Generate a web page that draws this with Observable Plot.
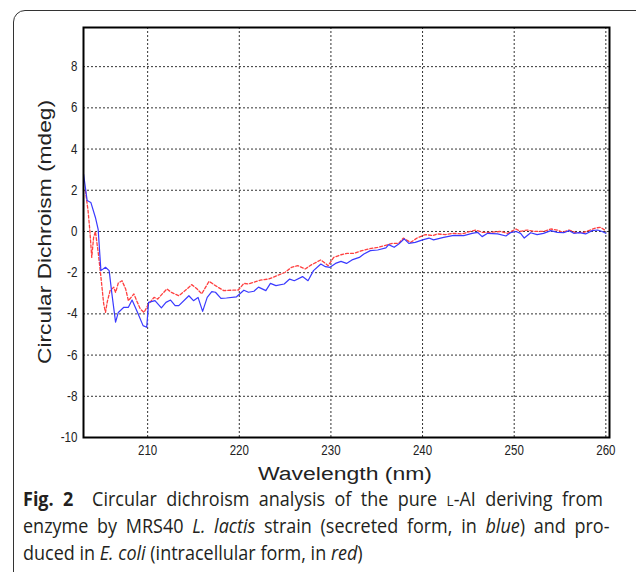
<!DOCTYPE html>
<html><head><meta charset="utf-8">
<script src="https://cdn.jsdelivr.net/npm/d3@7"></script>
<script src="https://cdn.jsdelivr.net/npm/@observablehq/plot@0.6"></script>
<style>
body{margin:0;background:#fff;}
#wrap{position:relative;width:636px;height:572px;overflow:hidden;background:#fff;}
#box{position:absolute;left:13px;top:10px;width:640px;height:620px;border:1.5px solid #333;border-radius:12px;box-sizing:border-box;}
#chart{position:absolute;left:0;top:0;}
#cap{position:absolute;left:0;top:485px;}
</style></head><body>
<div id="wrap"><div id="box"></div><div id="chart"></div><svg id="cap" width="636" height="87"></svg></div>
<script>
// Secreted form (blue)
const blueWavelength = [203.0,203.4,203.8,204.3,204.6,204.9,205.4,205.8,206.1,206.5,
  206.8,207.4,207.9,208.3,208.9,209.5,209.9,210.1,210.8,211.5,
  212.0,212.5,213.0,213.4,214.5,215.0,215.5,216.0,216.5,217.0,
  217.4,218.0,218.6,219.7,220.5,221.0,221.6,222.1,222.9,223.4,
  224.0,224.9,225.5,226.0,226.9,227.5,228.1,228.9,229.4,229.9,
  230.5,231.1,231.7,232.3,233.1,233.6,234.3,235.1,236.0,236.3,
  236.9,237.4,238.0,238.5,239.2,240.0,240.7,241.2,242.3,243.4,
  244.5,245.4,246.0,246.5,247.1,248.2,249.1,249.6,250.2,250.7,
  251.1,251.8,252.5,253.2,254.0,254.7,255.4,256.0,256.5,257.1,
  257.8,258.5,259.1,259.6,260.0];
const blueCD = [2.8,1.5,1.41,0.68,0.1,-1.9,-1.74,-1.9,-3.03,-4.4,
  -3.93,-3.68,-3.68,-3.33,-3.93,-4.57,-4.65,-3.44,-3.36,-3.71,
  -3.44,-3.33,-3.6,-3.6,-3.12,-3.36,-3.2,-3.88,-3.2,-2.92,
  -2.95,-3.25,-3.23,-3.17,-2.85,-2.95,-2.9,-2.7,-2.87,-2.52,
  -2.63,-2.55,-2.31,-2.39,-2.19,-2.39,-1.9,-1.58,-1.71,-1.74,
  -1.55,-1.45,-1.55,-1.38,-1.26,-1.09,-0.93,-0.9,-0.8,-0.64,
  -0.77,-0.61,-0.36,-0.58,-0.53,-0.41,-0.32,-0.41,-0.29,-0.19,
  -0.2,-0.09,-0.04,-0.25,-0.09,-0.12,-0.22,-0.06,0.0,-0.09,
  -0.32,-0.06,-0.15,-0.09,0.04,-0.04,-0.06,0.04,-0.09,-0.06,
  -0.12,0.04,0.07,0.0,-0.09];
// Intracellular form (red)
const redWavelength = [203.2,203.5,203.7,203.9,204.1,204.3,204.6,204.9,205.2,205.4,
  205.6,205.9,206.3,206.5,206.8,207.2,207.6,207.9,208.5,208.8,
  209.2,209.6,210.1,210.7,211.1,211.6,212.1,212.6,213.4,214.3,
  214.8,215.4,215.9,216.7,217.4,218.3,219.2,219.9,220.5,221.0,
  221.7,222.3,223.2,224.1,225.0,225.7,226.4,227.2,227.9,228.9,
  229.7,230.3,231.1,231.8,232.5,233.4,234.1,235.1,235.8,236.7,
  237.4,237.9,238.7,239.4,240.3,241.1,241.6,242.5,243.4,244.3,
  245.2,245.8,246.5,247.4,248.5,249.3,250.2,250.7,251.4,252.3,
  253.2,254.0,254.7,255.3,256.0,256.7,257.6,258.3,258.9,259.4,
  260.0];
const redCD = [2.0,1.0,0.0,-1.26,-0.3,0.0,-1.0,-2.2,-3.5,-3.93,
  -3.4,-2.87,-2.71,-2.96,-2.5,-2.39,-2.79,-3.36,-3.03,-3.36,
  -3.76,-3.93,-3.52,-3.2,-3.28,-3.03,-2.79,-2.96,-3.12,-2.79,
  -2.58,-2.79,-3.03,-2.42,-2.63,-2.87,-2.85,-2.84,-2.52,-2.55,
  -2.45,-2.36,-2.31,-2.15,-1.98,-1.74,-1.66,-1.82,-1.61,-1.38,
  -1.66,-1.26,-1.13,-1.06,-1.06,-0.93,-0.85,-0.77,-0.69,-0.58,
  -0.58,-0.32,-0.53,-0.32,-0.15,-0.2,-0.12,-0.15,-0.09,-0.12,
  0.0,0.07,-0.04,-0.04,0.0,-0.09,0.12,0.0,0.07,0.0,
  0.0,0.12,0.07,-0.04,0.07,-0.06,-0.04,0.07,0.17,0.2,
  0.04];
const xTicks = [210,220,230,240,250,260];
const yTicks = [-10,-8,-6,-4,-2,0,2,4,6,8];
const xTitle = "Wavelength (nm)";
const yTitle = "Circular Dichroism (mdeg)";

const blue = blueWavelength.map((wl,i)=>({wl, cd: blueCD[i]}));
const red = redWavelength.map((wl,i)=>({wl, cd: redCD[i]}));

const grid = {stroke:"#333", strokeOpacity:1, strokeWidth:1, strokeDasharray:"2,2"};
const chart = Plot.plot({
  width: 636, height: 485,
  marginLeft: 83, marginRight: 27, marginTop: 27, marginBottom: 48,
  x: {domain: [203, 260.4]},
  y: {domain: [-10, 9.9]},
  style: {background:"transparent", fontFamily:"'Liberation Sans','Arial',sans-serif", fontSize:"14px", color:"#222"},
  marks: [
    Plot.gridX(xTicks, grid),
    Plot.gridY(yTicks, grid),
    Plot.axisX(xTicks, {tickSize:0, tickPadding:8, label:null, tickFormat: d => String(d)}),
    Plot.axisY(yTicks, {tickSize:0, tickPadding:6, label:null, tickFormat: d => String(d)}),
    Plot.line(red, {x:"wl", y:"cd", stroke:"#ff4040", strokeWidth:1.3, strokeDasharray:"3,2"}),
    Plot.line(blue, {x:"wl", y:"cd", stroke:"#3a3aff", strokeWidth:1.2}),
    Plot.frame({stroke:"#000", strokeWidth:2})
  ]
});
document.getElementById("chart").appendChild(chart);
const svg = d3.select(chart);
// condense tick labels like the reference's narrow font
svg.selectAll('g[aria-label$="tick label"] text').each(function(){
  const s = this.textContent;
  let w = 0; for (const c of s) w += (c === "-" ? 4 : 6.4);
  d3.select(this).attr("textLength", w).attr("lengthAdjust","spacingAndGlyphs");
});
svg.append("text").attr("x",345).attr("y",480).attr("text-anchor","middle")
  .attr("font-family","'Liberation Sans',Arial,sans-serif").attr("font-size",18).attr("fill","#222")
  .attr("textLength",174).attr("lengthAdjust","spacingAndGlyphs").text(xTitle);
svg.append("text").attr("transform","translate(51,232) rotate(-90)").attr("text-anchor","middle")
  .attr("font-family","'Liberation Sans',Arial,sans-serif").attr("font-size",18).attr("fill","#222")
  .attr("textLength",264).attr("lengthAdjust","spacingAndGlyphs").text(yTitle);

// caption: condensed face, justified lines (slight extra word spacing) and a natural last line
const cap = d3.select("#cap").attr("font-family","'Open Sans','Noto Sans',sans-serif").attr("font-size",20).attr("fill","#231f20");
const lines = [];
function line(y, target, parts){
  const g = cap.append("g");
  const t = g.append("text").attr("x",0).attr("y",0);
  let str = "";
  parts.forEach(p=>{
    const s = t.append("tspan").text(p.t);
    str += p.t;
    if(p.b) s.attr("font-weight","bold");
    if(p.i) s.attr("font-style","italic");
    if(p.s) s.attr("font-size",15);
  });
  lines.push({g, t, y, target, spaces: (str.match(/ /g) || []).length});
}
line(21, 571, [{t:"Fig. 2",b:1},{t:"\u00a0\u00a0Circular dichroism analysis of the pure "},{t:"L",s:1},{t:"-AI deriving from"}]);
line(48, 587, [{t:"enzyme by MRS40 "},{t:"L. lactis",i:1},{t:" strain (secreted form, in "},{t:"blue",i:1},{t:") and pro-"}]);
line(75, null, [{t:"duced in "},{t:"E. coli",i:1},{t:" (intracellular form, in "},{t:"red",i:1},{t:")"}]);
const nat3 = lines[2].t.node().getComputedTextLength() || 330;
const k = 340 / nat3;
lines.forEach(l => {
  if (l.target) {
    const nat = l.t.node().getComputedTextLength();
    const extra = (l.target / k - nat) / l.spaces;
    l.t.attr("word-spacing", Math.max(0, extra));
  }
  l.g.attr("transform", `translate(23,${l.y}) scale(${k},1)`);
});
</script>
</body></html>
